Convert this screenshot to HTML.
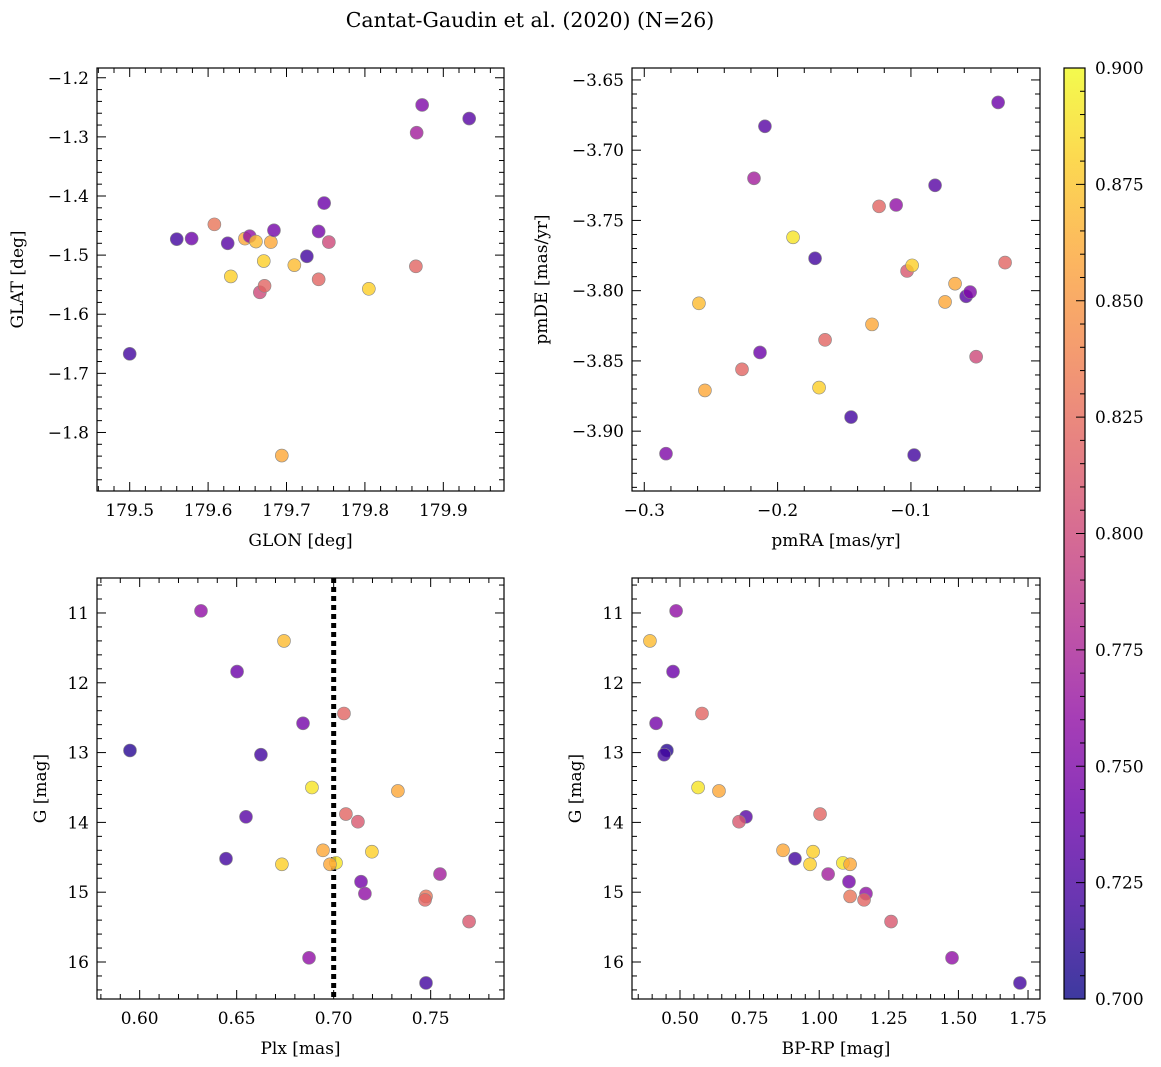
<!DOCTYPE html>
<html><head><meta charset="utf-8"><style>
body{margin:0;background:#fff}
svg{display:block;font-family:"DejaVu Serif","Liberation Serif",serif}
</style></head><body>
<svg id="fig" width="1161" height="1067" viewBox="0 0 1161 1067">
<text x="530" y="27" font-size="20.5" text-anchor="middle">Cantat-Gaudin et al. (2020) (N=26)</text>
</svg>
<script>
// ---- data ----
const glon=[179.500,179.560,179.579,179.608,179.625,179.629,179.647,179.653,179.661,179.666,179.672,179.671,179.680,179.684,179.710,179.694,179.726,179.741,179.741,179.748,179.754,179.805,179.866,179.865,179.873,179.933];
const glat=[-1.667,-1.473,-1.472,-1.448,-1.480,-1.536,-1.472,-1.468,-1.477,-1.563,-1.552,-1.510,-1.478,-1.458,-1.517,-1.839,-1.502,-1.460,-1.541,-1.412,-1.478,-1.557,-1.293,-1.519,-1.246,-1.269];
const probaTL=[0.72,0.72,0.74,0.83,0.73,0.88,0.86,0.76,0.87,0.80,0.82,0.88,0.86,0.745,0.87,0.86,0.72,0.745,0.82,0.74,0.80,0.88,0.77,0.82,0.75,0.73];
const pmra=[-0.2837,-0.2590,-0.2545,-0.2267,-0.2132,-0.2095,-0.2177,-0.1884,-0.1719,-0.1689,-0.1644,-0.1449,-0.1292,-0.1239,-0.1111,-0.1029,-0.0991,-0.0976,-0.0819,-0.0744,-0.0669,-0.0586,-0.0556,-0.0511,-0.0346,-0.0294];
const pmde=[-3.916,-3.809,-3.871,-3.856,-3.844,-3.683,-3.720,-3.762,-3.777,-3.869,-3.835,-3.890,-3.824,-3.740,-3.739,-3.786,-3.782,-3.917,-3.725,-3.808,-3.795,-3.804,-3.801,-3.847,-3.666,-3.780];
const probaTR=[0.75,0.87,0.86,0.82,0.74,0.73,0.77,0.89,0.72,0.88,0.82,0.72,0.86,0.82,0.76,0.81,0.88,0.72,0.73,0.86,0.86,0.73,0.75,0.80,0.74,0.82];
const gmag=[10.97,11.40,11.84,12.44,12.58,12.97,13.03,13.50,13.55,13.88,13.92,13.99,14.40,14.42,14.52,14.58,14.60,14.60,14.74,14.85,15.02,15.06,15.11,15.42,15.94,16.30];
const plx=[0.6316,0.6744,0.6502,0.7053,0.6842,0.5950,0.6625,0.6888,0.7331,0.7063,0.6548,0.7125,0.6945,0.7197,0.6445,0.7012,0.6733,0.6981,0.7548,0.7141,0.7161,0.7476,0.7471,0.7698,0.6873,0.7476];
const bprp=[0.486,0.392,0.475,0.579,0.414,0.453,0.443,0.565,0.640,1.003,0.737,0.712,0.870,0.978,0.913,1.085,0.967,1.111,1.032,1.107,1.168,1.111,1.161,1.258,1.477,1.721];
const probaB=[0.76,0.87,0.74,0.82,0.745,0.71,0.72,0.89,0.86,0.82,0.73,0.81,0.86,0.88,0.72,0.89,0.88,0.86,0.77,0.745,0.76,0.83,0.82,0.81,0.76,0.72];
const cutPlx=[0.70];
const cbTicks=[0.700,0.725,0.750,0.775,0.800,0.825,0.850,0.875,0.900];

const NS="http://www.w3.org/2000/svg";
const svg=document.getElementById('fig');
function mk(tag,attrs,parent){const e=document.createElementNS(NS,tag);for(const k in attrs)e.setAttribute(k,attrs[k]);(parent||svg).appendChild(e);return e;}
const stops=["#0d0887","#41049d","#6a00a8","#8f0da4","#b12a90","#cc4778","#e16462","#f2844b","#fca636","#fcce25","#f0f921"];
function hex(h){return [parseInt(h.slice(1,3),16),parseInt(h.slice(3,5),16),parseInt(h.slice(5,7),16)];}
function plasma(t){t=Math.max(0,Math.min(1,t));const f=t*10,i=Math.min(9,Math.floor(f)),r=f-i;const a=hex(stops[i]),b=hex(stops[i+1]);
return `rgb(${a.map((v,k)=>Math.round(v+(b[k]-v)*r)).join(',')})`;}
const cmin=0.70,cmax=0.90;
function fmt(v,d){return (v<0?"\u2212":"")+Math.abs(v).toFixed(d);}

function panel(o){
  const g=mk('g',{});
  const sx=v=>o.x0+(v-o.xr[0])/(o.xr[1]-o.xr[0])*(o.x1-o.x0);
  const sy=v=>o.yinv? o.y0+(v-o.yr[0])/(o.yr[1]-o.yr[0])*(o.y1-o.y0) : o.y1-(v-o.yr[0])/(o.yr[1]-o.yr[0])*(o.y1-o.y0);
  const tg=mk('g',{stroke:'#000','stroke-width':1},g);
  
  
  const eps=1e-9;
  for(let v=Math.ceil(o.xr[0]/o.xmin-eps)*o.xmin; v<=o.xr[1]+eps; v+=o.xmin){
    const X=sx(v);const maj=Math.abs(v/o.xmaj-Math.round(v/o.xmaj))<1e-4;const L=maj?9:5;
    mk('line',{x1:X,x2:X,y1:o.y1,y2:o.y1-L},tg);mk('line',{x1:X,x2:X,y1:o.y0,y2:o.y0+L},tg);
    if(maj){const t=mk('text',{x:X,y:o.y1+25,'font-size':17,'text-anchor':'middle',stroke:'none'},g);t.textContent=fmt(v,o.xd);
      }
  }
  for(let v=Math.ceil(o.yr[0]/o.ymin-eps)*o.ymin; v<=o.yr[1]+eps; v+=o.ymin){
    const Y=sy(v);const maj=Math.abs(v/o.ymaj-Math.round(v/o.ymaj))<1e-4;const L=maj?9:5;
    mk('line',{x1:o.x0,x2:o.x0+L,y1:Y,y2:Y},tg);mk('line',{x1:o.x1,x2:o.x1-L,y1:Y,y2:Y},tg);
    if(maj){const t=mk('text',{x:o.x0-8,y:Y+6,'font-size':17,'text-anchor':'end',stroke:'none'},g);t.textContent=fmt(v,o.yd);
      }
  }
  if(o.vline){for(const v of o.vline){const l=mk('line',{x1:sx(v),x2:sx(v),y1:o.y0,y2:o.y1,stroke:'#000','stroke-width':5,'stroke-dasharray':'5,4'},g);
    }}
  o.xs.forEach((xv,i)=>{const c=mk('circle',{cx:sx(xv),cy:sy(o.ys[i]),r:6.5,fill:plasma((o.c[i]-cmin)/(cmax-cmin)),'fill-opacity':0.8,stroke:'#888','stroke-width':0.6},g);
    });
  const fr=mk('rect',{x:o.x0,y:o.y0,width:o.x1-o.x0,height:o.y1-o.y0,fill:'none',stroke:'#000','stroke-width':1.2},g);
  
  const xl=mk('text',{x:(o.x0+o.x1)/2,y:o.y1+55,'font-size':17,'text-anchor':'middle'},g);xl.textContent=o.xlab;
  
  const yc=(o.y0+o.y1)/2;const yl=mk('text',{x:o.ylx,y:yc,'font-size':17,'text-anchor':'middle',transform:`rotate(-90 ${o.ylx} ${yc})`},g);yl.textContent=o.ylab;
  
}
panel({name:'glon-glat-panel',x0:97,x1:504,y0:68,y1:491,xr:[179.4583,179.9774],yr:[-1.899,-1.1835],xmaj:0.1,xmin:0.02,ymaj:0.1,ymin:0.02,xd:1,yd:1,xs:glon,ys:glat,c:probaTL,xlab:'GLON [deg]',ylab:'GLAT [deg]',ylx:23});
panel({name:'pm-panel',x0:632,x1:1040,y0:68,y1:491,xr:[-0.3092,-0.0032],yr:[-3.9426,-3.6415],xmaj:0.1,xmin:0.02,ymaj:0.05,ymin:0.01,xd:1,yd:2,xs:pmra,ys:pmde,c:probaTR,xlab:'pmRA [mas/yr]',ylab:'pmDE [mas/yr]',ylx:547});
panel({name:'plx-g-panel',x0:97,x1:504,y0:578,y1:999,xr:[0.5780,0.7878],yr:[10.499,16.53],yinv:true,xmaj:0.05,xmin:0.01,ymaj:1,ymin:0.2,xd:2,yd:0,xs:plx,ys:gmag,c:probaB,xlab:'Plx [mas]',ylab:'G [mag]',ylx:46,vline:cutPlx});
panel({name:'cmd-panel',x0:632,x1:1040,y0:578,y1:999,xr:[0.3276,1.793],yr:[10.499,16.53],yinv:true,xmaj:0.25,xmin:0.05,ymaj:1,ymin:0.2,xd:2,yd:0,xs:bprp,ys:gmag,c:probaB,xlab:'BP-RP [mag]',ylab:'G [mag]',ylx:581});

// colorbar
const cb=mk('g',{});
const defs=mk('defs',{},svg);const lg=mk('linearGradient',{id:'pg',x1:0,y1:1,x2:0,y2:0},defs);
for(let i=0;i<=20;i++){mk('stop',{offset:i/20,'stop-color':plasma(i/20),'stop-opacity':0.8},lg);}
const cx0=1064,cx1=1085,cy0=68,cy1=999;
mk('rect',{x:cx0,y:cy0,width:cx1-cx0,height:cy1-cy0,fill:'url(#pg)',stroke:'#000','stroke-width':1.2},cb);
const cby=v=>cy1-(v-cmin)/(cmax-cmin)*(cy1-cy0);
for(let v=cmin;v<=cmax+1e-9;v+=0.005){const Y=cby(v);const maj=Math.abs(v/0.025-Math.round(v/0.025))<1e-4;
  mk('line',{x1:cx1,x2:cx1-(maj?9:5),y1:Y,y2:Y,stroke:'#000'},cb);}
cbTicks.forEach(v=>{const t=mk('text',{x:cx1+10,y:cby(v)+6,'font-size':17},cb);t.textContent=v.toFixed(3);
  });
</script>
</body></html>
